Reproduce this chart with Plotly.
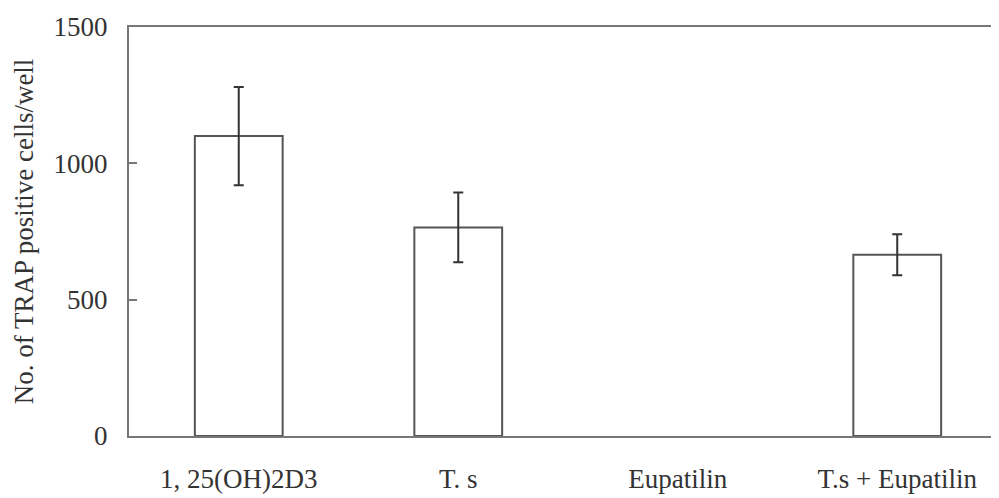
import plotly.graph_objects as go

categories = ["1, 25(OH)2D3", "T. s", "Eupatilin", "T.s + Eupatilin"]
values = [1100, 765, None, 665]
errors = [180, 128, None, 75]
y_ticks = [0, 500, 1000, 1500]

fig = go.Figure()
fig.add_trace(go.Bar(
    x=categories, y=values, width=0.4,
    marker=dict(color="white", line=dict(color="#555555", width=2)),
    error_y=dict(type="data", array=errors, visible=True, color="#333333", thickness=2, width=5),
))

font_family = "Liberation Serif"
fig.update_layout(
    width=991, height=490,
    margin=dict(l=121, r=0, t=19, b=62),
    plot_bgcolor="white", paper_bgcolor="white",
    showlegend=False,
    font=dict(family=font_family, color="#333333"),
)
fig.update_xaxes(
    range=[-0.5, 3.4636], showline=True, mirror=True, linecolor="#777777", linewidth=2,
    ticks="", showgrid=False, tickfont=dict(size=27, family=font_family), ticklabelstandoff=18,
    automargin=False,
)
fig.update_yaxes(
    range=[0, 1500], tickvals=y_ticks, showline=True, linecolor="#777777", linewidth=2,
    ticks="inside", ticklen=8, tickcolor="#777777", tickwidth=1.5, showgrid=False, zeroline=False,
    tickfont=dict(size=27, family=font_family), ticklabelstandoff=14, automargin=False,
    title=dict(text="No. of TRAP positive cells/well", font=dict(size=27, family=font_family), standoff=12),
)
fig.write_html("out.html")
